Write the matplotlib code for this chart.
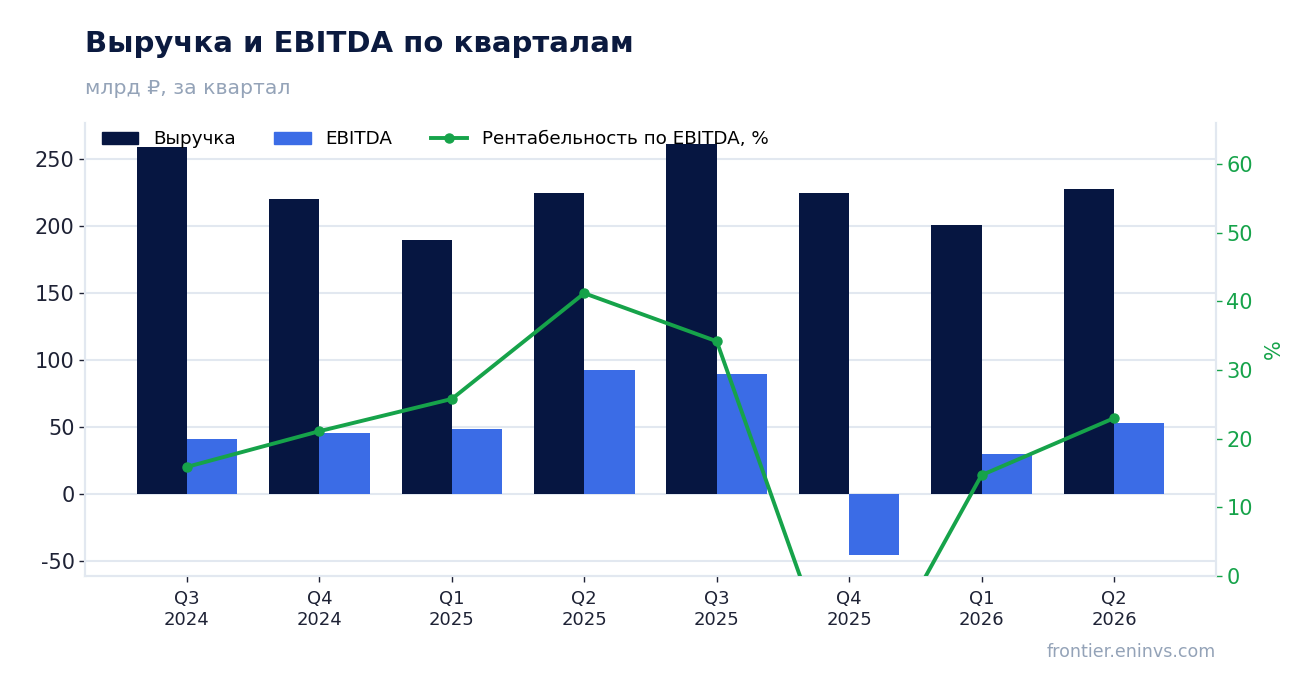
import numpy as np
import matplotlib
matplotlib.use("Agg")
from matplotlib import pyplot as plt
from matplotlib.lines import Line2D
from matplotlib.patches import Patch

plt.rcParams['font.family'] = ['DejaVu Sans']
plt.rcParams['axes.unicode_minus'] = False

quarters = ["Q3\n2024", "Q4\n2024", "Q1\n2025", "Q2\n2025", "Q3\n2025", "Q4\n2025", "Q1\n2026", "Q2\n2026"]
revenue = [259, 220, 190, 225, 261, 225, 201, 228]
ebitda = [41, 46, 49, 92.5, 89.5, -45.5, 30, 53]
margin = [15.9, 21.1, 25.8, 41.2, 34.2, -20.2, 14.7, 23.0]

navy = "#061641"
blue = "#3b6ce6"
green = "#16a34a"
grid_c = "#e2e8f0"
text_c = "#1e2235"

fig = plt.figure(figsize=(13.16, 6.93), dpi=100)
ax = fig.add_axes([0.0646, 0.1688, 0.8594, 0.6537])

x = np.arange(len(quarters))
w = 0.38
ax.bar(x - w / 2, revenue, w, color=navy, zorder=2)
ax.bar(x + w / 2, ebitda, w, color=blue, zorder=2)
ax.set_ylim(-61, 277)
ax.set_xlim(-0.77, 7.77)
ax.set_yticks([-50, 0, 50, 100, 150, 200, 250])
ax.set_xticks(x)
ax.set_xticklabels(quarters, fontsize=13, color=text_c, linespacing=1.25)
ax.tick_params(axis='y', labelsize=15, colors=text_c, length=4, width=1)
ax.tick_params(axis='x', length=4, width=1, colors=text_c, pad=6)
ax.grid(axis='y', color=grid_c, linewidth=1.5, zorder=0)
ax.set_axisbelow(True)
for s in ax.spines.values():
    s.set_color(grid_c)
    s.set_linewidth(1.5)
ax.spines['top'].set_visible(False)

ax2 = ax.twinx()
ax2.plot(x, margin, color=green, linewidth=2.8, marker='o', markersize=6.5, zorder=5)
ax2.set_ylim(0, 66)
ax2.set_yticks([0, 10, 20, 30, 40, 50, 60])
ax2.tick_params(axis='y', labelsize=15, colors=green, length=4, width=1)
ax2.set_ylabel("%", color=green, fontsize=15, labelpad=8)
for s in ax2.spines.values():
    s.set_color(grid_c)
    s.set_linewidth(1.5)
ax2.spines['top'].set_visible(False)

handles = [Patch(color=navy), Patch(color=blue),
           Line2D([0], [0], color=green, linewidth=2.8, marker='o', markersize=6.5)]
labels = ["Выручка", "EBITDA", "Рентабельность по EBITDA, %"]
ax2.legend(handles, labels, loc='upper left', ncol=3, frameon=False, fontsize=13.2,
           bbox_to_anchor=(0.0, 1.02), handlelength=2.0, handletextpad=0.8,
           columnspacing=2.1)

fig.text(0.0646, 0.936, "Выручка и EBITDA по кварталам", fontsize=21, fontweight='bold',
         color="#0b1a3f", va='center', ha='left')
fig.text(0.0646, 0.873, "млрд ₽, за квартал", fontsize=14.7, color="#94a3b8", va='center', ha='left')
fig.text(0.924, 0.059, "frontier.eninvs.com", fontsize=12.6, color="#94a3b8", va='center', ha='right')

fig.savefig("out.png", dpi=100)
